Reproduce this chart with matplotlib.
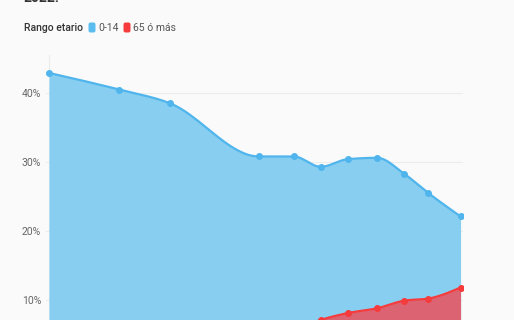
import numpy as np
import matplotlib.pyplot as plt
from matplotlib.patches import FancyBboxPatch

plt.rcParams['font.family'] = ['Roboto', 'DejaVu Sans']

# data (census years, % of population)
years = [1869, 1895, 1914, 1947, 1960, 1970, 1980, 1991, 2001, 2010, 2022]
ninos = [42.9, 40.5, 38.5, 30.8, 30.8, 29.3, 30.4, 30.6, 28.3, 25.5, 22.1]
mayores = [2.2, 2.5, 2.3, 3.9, 5.6, 7.1, 8.1, 8.8, 9.9, 10.2, 11.8]
yticks = [10, 20, 30, 40]
ytick_labels = ['10%', '20%', '30%', '40%']
series_names = ['0-14', '65 ó más']

BG = '#fafafa'
BLUE_LINE, BLUE_FILL = '#4fb5ec', '#88cef0'
RED_LINE, RED_FILL = '#f53b3b', '#dc6372'


def monotone(x, y, n=40):
    # monotone cubic curve through the points (same idea as d3 curveMonotoneX)
    x = np.asarray(x, float)
    y = np.asarray(y, float)
    h = np.diff(x)
    s = np.diff(y) / h
    t = np.zeros_like(y)
    for i in range(1, len(y) - 1):
        if s[i - 1] * s[i] > 0:
            p = (s[i - 1] * h[i] + s[i] * h[i - 1]) / (h[i - 1] + h[i])
            t[i] = np.sign(s[i]) * min(2 * abs(s[i - 1]), 2 * abs(s[i]), abs(p))
    t[0] = (3 * s[0] - t[1]) / 2
    t[-1] = (3 * s[-1] - t[-2]) / 2
    xs, ys = [], []
    for i in range(len(h)):
        u = np.linspace(0, 1, n)
        h00 = 2 * u**3 - 3 * u**2 + 1
        h10 = u**3 - 2 * u**2 + u
        h01 = -2 * u**3 + 3 * u**2
        h11 = u**3 - u**2
        xs.append(x[i] + u * h[i])
        ys.append(h00 * y[i] + h10 * h[i] * t[i] + h01 * y[i + 1] + h11 * h[i] * t[i + 1])
    return np.concatenate(xs), np.concatenate(ys)


fig = plt.figure(figsize=(5.14, 3.2), dpi=100, facecolor=BG)
# axes runs below the bottom edge, as in the cropped original
ax = fig.add_axes([46 / 514, -49 / 320, 417 / 514, 314 / 320])
ax.set_facecolor(BG)

ax.set_ylim(0, 45.5)
ax.set_xlim(1867.9, 2022.9)
for v in yticks:
    ax.axhline(v, color='#ececec', lw=0.8, zorder=0)
ax.axvline(years[0], color='#ececec', lw=0.8, zorder=0)

bx, by = monotone(years, ninos)
ax.fill_between(bx, 0, by, color=BLUE_FILL, lw=0, zorder=1)
ax.plot(bx, by, color=BLUE_LINE, lw=1.6, zorder=2)
ax.plot(years, ninos, 'o', color=BLUE_LINE, ms=4, zorder=5)

rx, ry = monotone(years, mayores)
ax.fill_between(rx, 0, ry, color=RED_FILL, lw=0, zorder=3)
ax.plot(rx, ry, color=RED_LINE, lw=1.6, zorder=4)
ax.plot(years, mayores, 'o', color=RED_LINE, ms=4, zorder=6)

for sp in ax.spines.values():
    sp.set_visible(False)
ax.set_xticks([])
ax.set_yticks(yticks)
ax.set_yticklabels(ytick_labels)
ax.tick_params(axis='y', length=0, pad=3.5, labelsize=7.5, labelcolor='#666666')

# title tail (rest of the title is cut off above)
fig.text(24 / 514, 1 - 2.5 / 320, '2022.', fontsize=10, fontweight='bold',
         color='#333333', va='baseline', ha='left')

# legend
fig.text(24 / 514, 1 - 28 / 320, 'Rango etario', fontsize=7.5, fontweight='medium',
         color='#333333', va='center', ha='left')
for x0, col, lab, tx in [(88.5, '#5bbcf0', series_names[0], 98),
                         (123.5, '#f53b3b', series_names[1], 133)]:
    fig.add_artist(FancyBboxPatch((x0 / 100, (320 - 32.5) / 100), 0.07, 0.10,
                                  boxstyle='round,pad=0,rounding_size=0.02',
                                  transform=fig.dpi_scale_trans, color=col, lw=0))
    fig.text(tx / 514, 1 - 28 / 320, lab, fontsize=7.5, color='#555555',
             va='center', ha='left')

fig.savefig('out.png', dpi=100, facecolor=BG)
